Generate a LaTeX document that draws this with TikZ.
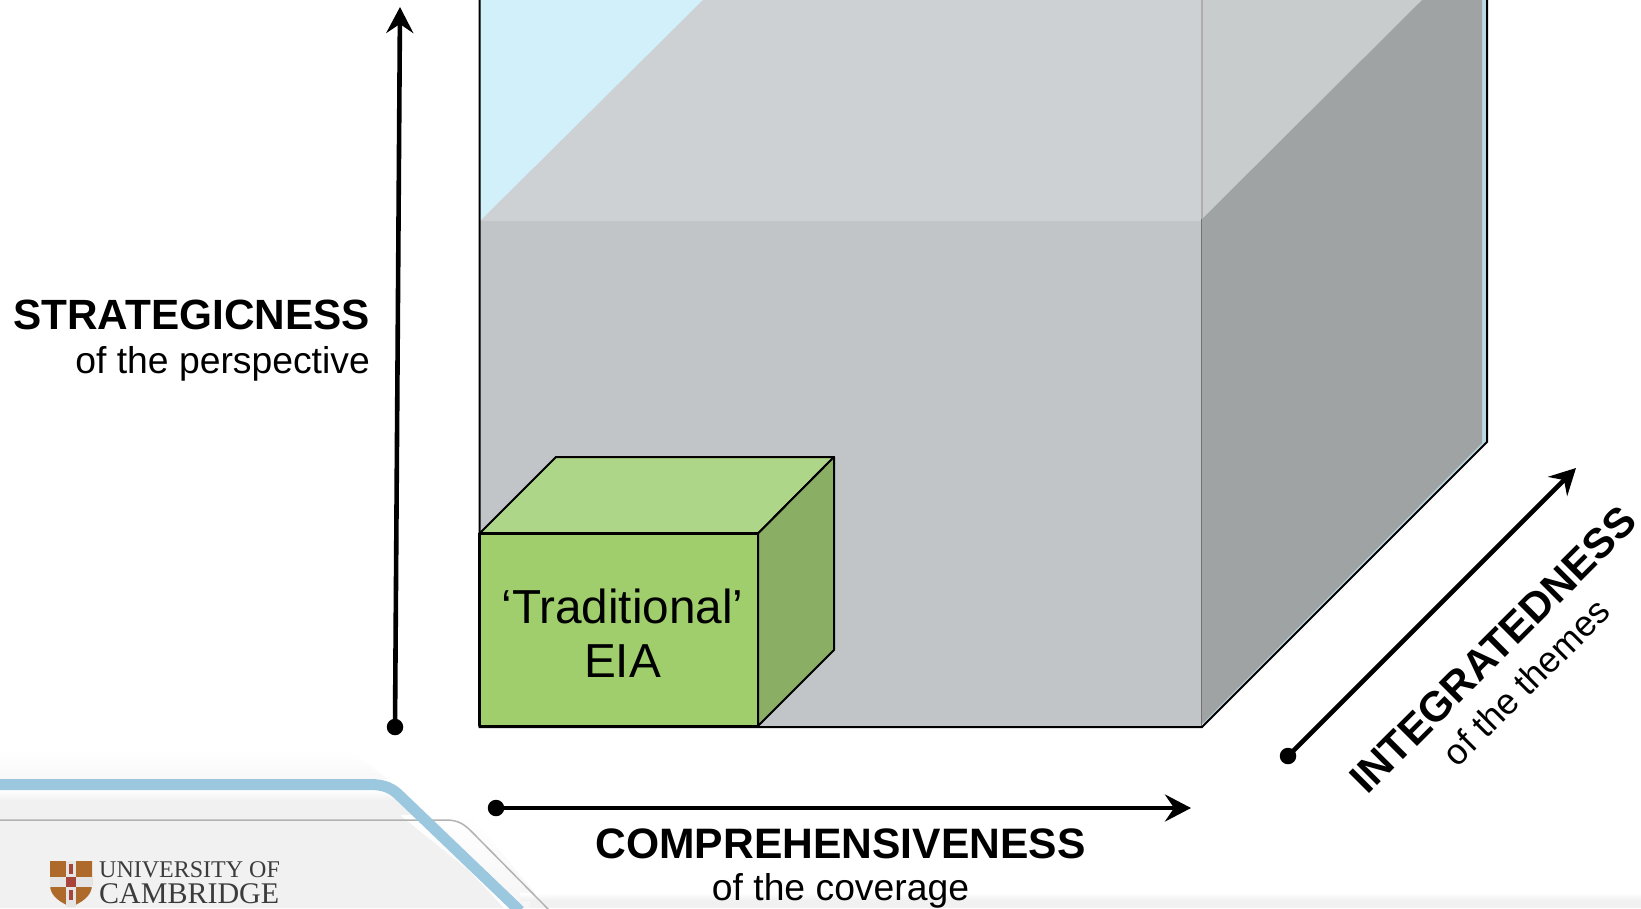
\documentclass[tikz,border=0pt]{standalone}
\usepackage{fontspec}
\setmainfont{Liberation Sans}
\newfontfamily\logofont{Liberation Serif}
\usetikzlibrary{arrows.meta}
\definecolor{skyback}{HTML}{D2F0FA}
\definecolor{stripblue}{HTML}{BDD7E2}
\definecolor{topgrey}{HTML}{CDD1D4}
\definecolor{topgreyb}{HTML}{C8CCCD}
\definecolor{frontgrey}{HTML}{C1C5C8}
\definecolor{sidegrey}{HTML}{9FA3A3}
\definecolor{greenfront}{HTML}{A0CE6C}
\definecolor{greentop}{HTML}{AED688}
\definecolor{greenside}{HTML}{8AAF64}
\definecolor{bandblue}{HTML}{9CC8DF}
\definecolor{footgrey}{HTML}{F1F1F2}
\definecolor{footpale}{HTML}{F8F8F9}
\definecolor{shieldbrown}{HTML}{AD6A2A}
\definecolor{shieldred}{HTML}{A8453A}
\definecolor{logoink}{HTML}{3C3C3C}
\tikzset{
  axis/.style={line width=4.6pt,draw=black,-{Stealth[length=26pt,width=27pt,inset=9pt]}},
  dotend/.style={circle,fill=black,inner sep=0pt,minimum size=16.5pt},
  boldlabel/.style={inner sep=0pt,font=\fontsize{42.6}{42.6}\selectfont\bfseries},
  boldrot/.style={inner sep=0pt,font=\fontsize{42}{42}\selectfont\bfseries},
  thinlabel/.style={inner sep=0pt,font=\fontsize{37.3}{37.3}\selectfont},
  thinrot/.style={inner sep=0pt,font=\fontsize{36}{36}\selectfont},
  boxedge/.style={draw=black,line width=2pt,line join=round},
  logotext/.style={inner sep=0pt,anchor=base west,text=logoink},
}
\begin{document}
\begin{tikzpicture}[x=1pt,y=-1pt]
\useasboundingbox (0,0) rectangle (1641,908);
% footer
\shade[top color=white,bottom color=footpale] (0,750) -- (350,750) -- (388,779) -- (0,779) -- cycle;
\shade[top color=white,bottom color=footgrey] (0,790) -- (392,790) -- (402,800) -- (0,800) -- cycle;
\fill[footgrey] (0,800) -- (400,800) -- (505,908) -- (0,908) -- cycle;
\fill[white] (395,790) -- (412,790) -- (525,908) -- (504,908) -- cycle;
\shade[top color=white,bottom color=footgrey!70!white] (400,815) -- (470,815) -- (548,908) -- (515,908) -- cycle;
\shade[top color=white,bottom color=footgrey] (520,893) rectangle (1641,900);
\fill[footgrey] (530,900) rectangle (1641,908);
\draw[black!30,line width=1.5pt] (0,820) -- (446,820) .. controls (458,820) and (464,824) .. (472,832) -- (550,911);
\draw[bandblue,line width=11pt] (0,784.5) -- (370,784.5) .. controls (384,784.5) and (392,788) .. (400,796) -- (520,911);
% cube
\coordinate (fl) at (480,727);
\coordinate (fr) at (1202,727);
\coordinate (ftl) at (480,221);
\coordinate (ftr) at (1202,221);
\coordinate (br) at (1487,442);
\fill[skyback] (480,0) rectangle (1486,442);
\fill[stripblue] (1478,0) -- (1486,0) -- (1486,442) -- (1202,727) -- cycle;
\fill[topgrey] (ftl) -- (703,0) -- (1202,0) -- (1202,221) -- cycle;
\fill[topgreyb] (1202,0) -- (1422,0) -- (1202,219) -- cycle;
\draw[black!32,line width=1.5pt] (1202,0) -- (1202,219);
\fill[frontgrey] (ftl) rectangle (fr);
\fill[sidegrey] (1202,219) -- (1422,0) -- (1482,0) -- (1482,443) -- (1202,724) -- cycle;
\draw[black!55,line width=1.5pt] (1201.5,219) -- (1201.5,727);
\draw[black,line width=2pt] (479.5,0) -- (479.5,727) -- (1202,727) -- (1487,442) -- (1487,0);
% green box
\filldraw[boxedge,fill=greentop] (479.5,533.5) -- (556,457) -- (834,457) -- (758,533.5) -- cycle;
\filldraw[boxedge,fill=greenside] (758,533.5) -- (834,457) -- (834,650) -- (758,726) -- cycle;
\filldraw[boxedge,fill=greenfront,line width=2.5pt] (479.5,533.5) rectangle (758,726);
\node[inner sep=0pt,anchor=base,font=\fontsize{47.7}{48}\selectfont] (trad) at (622.5,623) {‘Traditional’};
\node[inner sep=0pt,anchor=base,font=\fontsize{47.7}{48}\selectfont] (eia) at (622.5,677) {EIA};
% axes
\node[dotend] (sdot) at (395,727) {};
\coordinate (stip) at (400,7);
\draw[axis] (sdot.center) -- (stip);
\node[dotend] (cdot) at (496,808) {};
\coordinate (ctip) at (1191,808);
\draw[axis] (cdot.center) -- (ctip);
\node[dotend] (idot) at (1288,756) {};
\coordinate (itip) at (1576,468);
\draw[axis] (idot.center) -- (itip);
% labels
\node[boldlabel,anchor=base east,font=\fontsize{42.3}{42.3}\selectfont\bfseries] (slab) at (370,329) {STRATEGICNESS};
\node[thinlabel,anchor=base east] (ssub) at (370,373) {of the perspective};
\node[boldlabel,anchor=base] (clab) at (840.5,858) {COMPREHENSIVENESS};
\node[thinlabel,anchor=base] (csub) at (840.5,900.5) {of the coverage};
\node[boldrot,anchor=base,rotate=45] (ilab) at (1503,660) {INTEGRATEDNESS};
\node[thinrot,anchor=base,rotate=45] (isub) at (1535,691) {of the themes};
% logo
\fill[shieldbrown] (50,861) -- (92,861) -- (92,885) .. controls (92,897) and (80,903) .. (71,907) .. controls (62,903) and (50,897) .. (50,885) -- cycle;
\fill[white!90!black] (66,861) rectangle (76,907);
\fill[white!90!black] (50,877) rectangle (92,887);
\fill[shieldred] (66,877) rectangle (76,887);
\fill[shieldred] (69,864) rectangle (73,874);
\fill[shieldred] (69,890) rectangle (73,900);
\node[logotext,font=\logofont\fontsize{24}{24}\selectfont] (uni) at (99,877) {UNIVERSITY OF};
\node[logotext,font=\logofont\fontsize{30}{30}\selectfont] (cam) at (99,903) {CAMBRIDGE};
\end{tikzpicture}
\end{document}
